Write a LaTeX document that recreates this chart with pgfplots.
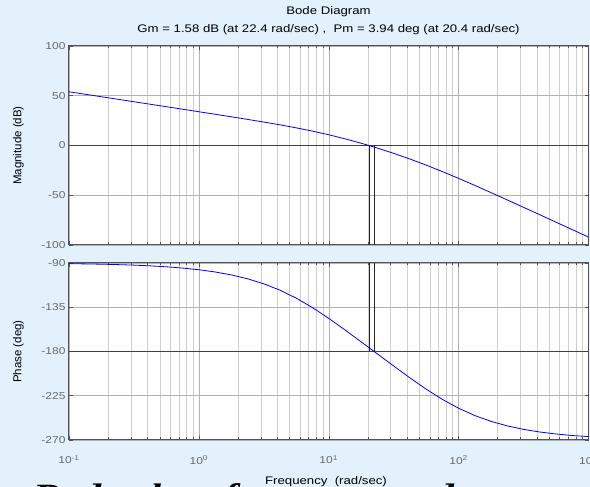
\documentclass[border=0pt]{standalone}
\usepackage{pgfplots}
\pgfplotsset{compat=1.18}
\usepackage{pgfplotstable}
\usepackage{fontspec}
\setmainfont[FakeStretch=1.2]{Liberation Sans}
\newfontfamily\rotfont{Liberation Sans}
\newfontfamily\slidefont[FakeStretch=1.2]{Liberation Serif}
\definecolor{bgc}{RGB}{226,241,251}
\definecolor{tkc}{RGB}{105,105,105}

\pgfplotstableread{
w mag ph
0.1 53.98 -90.69
0.1334 51.48 -90.92
0.1778 48.98 -91.22
0.2371 46.48 -91.63
0.3162 43.97 -92.17
0.4217 41.47 -92.90
0.5623 38.96 -93.86
0.7499 36.45 -95.15
1 33.93 -96.86
1.334 31.40 -99.13
1.778 28.84 -102.12
2.371 26.23 -106.05
3.162 23.55 -111.17
4.217 20.74 -117.69
5.623 17.73 -125.77
7.499 14.44 -135.39
10 10.80 -146.31
13.34 6.74 -158.08
17.78 2.27 -170.21
20.4 -0.01 -176.07
22.36 -1.58 -180.00
23.71 -2.61 -182.50
31.62 -7.90 -194.76
42.17 -13.59 -206.80
56.23 -19.71 -218.28
74.99 -26.22 -228.71
100 -33.05 -237.72
133.4 -40.14 -245.16
177.8 -47.39 -251.07
237.1 -54.74 -255.67
316.2 -62.15 -259.20
421.7 -69.60 -261.88
562.3 -77.08 -263.90
749.9 -84.56 -265.43
1000 -92.05 -266.57
}\bode

\pgfplotsset{
  bodeax/.style={
    scale only axis, width=519.5pt,
    xmin=0.1, xmax=1000,
    xtick={0.1,1,10,100,1000},
    grid=both,
    major grid style={draw=gray!60, line width=0.5pt},
    minor grid style={draw=gray!38, line width=0.5pt},
    axis line style={draw=gray!65!black, line width=1pt},
    tick style={draw=gray!65!black, line width=0.5pt},
    major tick length=4pt, minor tick length=2.5pt,
    tick align=inside,
    ticklabel style={font=\fontsize{10}{12}\selectfont, text=tkc},
    axis background/.style={fill=white},
  }
}

\begin{document}
\begin{tikzpicture}[x=1pt,y=1pt]
\fill[bgc] (0,0) rectangle (590,487);
\path[use as bounding box] (0,0) rectangle (590,487);

% slide caption partly hidden behind the figure
\node[anchor=base west, font=\slidefont\fontsize{34}{38}\selectfont\bfseries\itshape, inner sep=0pt] at (33,-21) {Bode plot of};
\node[anchor=base west, font=\slidefont\fontsize{34}{38}\selectfont\bfseries\itshape, inner sep=0pt] at (404,-21) {ted system};

\begin{axis}[xmode=log, bodeax, at={(69pt,242pt)}, anchor=south west, height=199pt,
  ymin=-100, ymax=100, ytick={-100,-50,0,50,100},
  yticklabels={-100,-50,0,50,100}, xticklabels={}]
\addplot[draw=black!75, line width=0.6pt] coordinates {(0.1,0) (1000,0)};
\addplot[draw=black!85, line width=0.5pt] coordinates {(20.4,-100) (20.4,0)};
\addplot[draw=black!85, line width=0.5pt] coordinates {(22.36,-100) (22.36,0)};
\addplot[blue, line width=0.8pt] table[x=w, y=mag] {\bode};
\end{axis}

\begin{axis}[xmode=log, bodeax, at={(69pt,47pt)}, anchor=south west, height=177pt,
  ymin=-270, ymax=-90, ytick={-270,-225,-180,-135,-90},
  yticklabels={-270,-225,-180,-135,-90},
  xticklabels={10\textsuperscript{-1},10\textsuperscript{0},10\textsuperscript{1},10\textsuperscript{2},10\textsuperscript{3}},
  xticklabel style={yshift=-12pt}]
\addplot[draw=black!75, line width=0.6pt] coordinates {(0.1,-180) (1000,-180)};
\addplot[draw=black!85, line width=0.5pt] coordinates {(20.4,-90) (20.4,-180)};
\addplot[draw=black!85, line width=0.5pt] coordinates {(22.36,-90) (22.36,-180)};
\addplot[blue, line width=0.8pt] table[x=w, y=ph] {\bode};
\end{axis}

\node[font=\fontsize{11}{13}\selectfont] at (328.5,475) {Bode Diagram};
\node[font=\fontsize{11}{13}\selectfont] at (328.5,457) {Gm = 1.58 dB (at 22.4 rad/sec) ,\ \ Pm = 3.94 deg (at 20.4 rad/sec)};
\node[rotate=90, font=\rotfont\fontsize{11.5}{13}\selectfont] at (18.5,341.5) {Magnitude (dB)};
\node[rotate=90, font=\rotfont\fontsize{11.5}{13}\selectfont] at (18.5,135.5) {Phase (deg)};
\node[font=\fontsize{11}{13}\selectfont, inner sep=0pt, anchor=base] at (326,2) {Frequency\ \ (rad/sec)};
\end{tikzpicture}
\end{document}
